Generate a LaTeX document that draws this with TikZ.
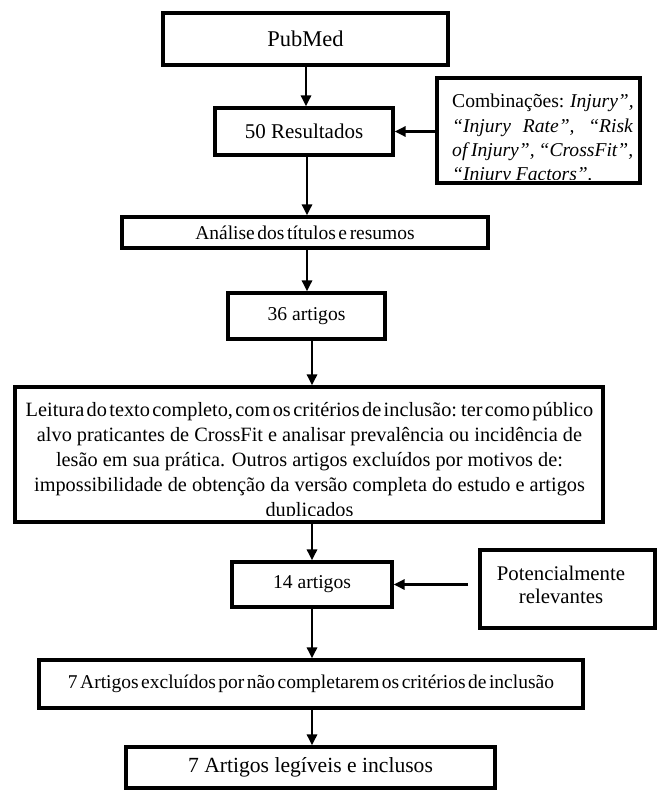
\documentclass[tikz,border=0pt]{standalone}
\usepackage{fontspec}
\setmainfont{Liberation Serif}
\usetikzlibrary{arrows.meta}
\newcommand\tightsp[1]{\spaceskip=#1 plus 0.5pt\relax}
\begin{document}
\begin{tikzpicture}[x=1pt,y=-1pt,
  box/.style={draw, line width=3.2pt, inner sep=0pt, align=center},
  arr/.style={line width=2.8pt, -{Triangle[length=11pt,width=10pt]}},
  txt/.style={inner sep=0pt, anchor=base},
  ]
\useasboundingbox (0,0) rectangle (657,797);
% boxes
\node[box, minimum width=285pt, minimum height=52pt, font=\fontsize{22.5}{26}\selectfont] (pub) at (305.5,39) {PubMed};
\node[box, minimum width=178pt, minimum height=47pt, font=\fontsize{21}{25}\selectfont] (res) at (304,131.5) {50 Resultados};
\node[box, minimum width=203pt, minimum height=105pt] (comb) at (538.5,130.5) {};
\node[box, minimum width=366pt, minimum height=31pt, font=\fontsize{19.5}{24}\selectfont] (ana) at (305,232.5) {\tightsp{2.6pt}Análise dos títulos e resumos};
\node[box, minimum width=157pt, minimum height=46pt, font=\fontsize{19.6}{24}\selectfont] (a36) at (306.5,316) {36 artigos};
\node[box, minimum width=588pt, minimum height=135pt] (big) at (309,454.5) {};
\node[box, minimum width=160pt, minimum height=45pt, font=\fontsize{19.6}{24}\selectfont] (b14) at (312,584.5) {14 artigos};
\node[box, minimum width=175pt, minimum height=78pt] (pot) at (567.5,589) {};
\node[box, minimum width=544pt, minimum height=48pt, font=\fontsize{19.5}{24}\selectfont] (excl) at (311,684) {\tightsp{2.5pt}7 Artigos excluídos por não completarem os critérios de inclusão};
\node[box, minimum width=369pt, minimum height=41pt, font=\fontsize{21.6}{26}\selectfont] (leg) at (310.5,767.5) {7 Artigos legíveis e inclusos};
% texts of the clipped boxes (the last line of each is cut at its baseline)
\begin{scope}
\clip (439,80) rectangle (638.4,179.6);
\begin{scope}[every node/.style={inner sep=0pt, anchor=base west, font=\fontsize{19.6}{24}\selectfont}]
\node (cl1) at (452,108) {\makebox[181pt][s]{Combinações: \textit{Injury”,}}};
\node (cl2) at (452,132) {\makebox[181pt][s]{\textit{“Injury Rate”, “Risk}}};
\node (cl3) at (452,156) {\makebox[181pt][s]{\textit{of Injury”, “CrossFit”,}}};
\node (cl4) at (452,180) {\textit{“Injury Factors”.}};
\end{scope}
\end{scope}
\begin{scope}
\clip (17,389) rectangle (601,515.6);
\begin{scope}[every node/.style={txt, font=\fontsize{20.3}{24}\selectfont}]
\node (bl1) at (309.5,416) {\tightsp{2.4pt}Leitura do texto completo, com os critérios de inclusão: ter como público};
\node (bl2) at (309.5,441) {alvo praticantes de CrossFit e analisar prevalência ou incidência de};
\node (bl3) at (309.5,466) {lesão em sua prática. Outros artigos excluídos por motivos de:};
\node (bl4) at (309.5,491) {impossibilidade de obtenção da versão completa do estudo e artigos};
\node (bl5) at (309.5,516) {duplicados};
\end{scope}
\end{scope}
\node[align=center, inner sep=0pt, font=\fontsize{20.8}{23}\selectfont] (ptxt) at (561,585) {Potencialmente\\relevantes};
% connectors
\coordinate (xa) at (306,0);
\coordinate (xb) at (307,0);
\coordinate (xc) at (312,0);
\draw[arr] (pub.south -| xa) -- (res.north -| xa);
\draw[arr] (comb.west |- res.east) -- (res.east);
\draw[arr] (res.south -| xb) -- (ana.north -| xb);
\draw[arr] (ana.south -| xb) -- (a36.north -| xb);
\draw[arr] (a36.south -| xc) -- (big.north -| xc);
\draw[arr] (big.south -| xc) -- (b14.north -| xc);
\coordinate (pa) at (468,584.5);
\draw[arr] (pa) -- (b14.east);
\draw[arr] (b14.south -| xc) -- (excl.north -| xc);
\draw[arr] (excl.south -| xc) -- (leg.north -| xc);
\end{tikzpicture}
\end{document}
